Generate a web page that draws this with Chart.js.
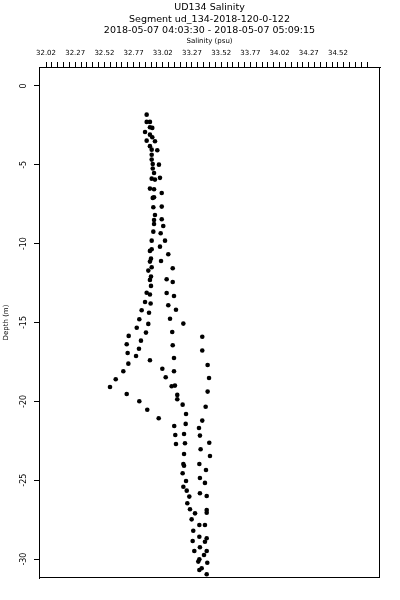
<!DOCTYPE html>
<html><head><meta charset="utf-8">
<script src="https://cdn.jsdelivr.net/npm/chart.js@4/dist/chart.umd.min.js"></script>
<style>html,body{margin:0;padding:0;background:#fff}</style>
</head><body>
<canvas id="c" width="400" height="600" style="display:block;width:400px;height:600px"></canvas>
<script>
const titleLines = ['UD134 Salinity', 'Segment ud_134-2018-120-0-122', '2018-05-07 04:03:30 - 2018-05-07 05:09:15'];
const xAxisTitle = 'Salinity (psu)';
const yAxisTitle = 'Depth (m)';
const xTickLabels = ['32.02','32.27','32.52','32.77','33.02','33.27','33.52','33.77','34.02','34.27','34.52'];
const xMinorCount = 56;      // minor tick marks every 0.05 psu from 32.02
const xMinorStep = 0.05;
const yTickValues = [0, -5, -10, -15, -20, -25, -30];

const salinity = [
32.882,32.882,32.910,32.910,32.930,32.868,32.910,32.930,32.882,32.953,
32.910,32.925,32.973,32.925,32.925,32.934,32.987,32.934,32.945,32.925,
32.953,32.996,32.910,32.945,33.011,32.934,32.945,32.939,33.011,32.953,
32.945,33.011,32.945,33.024,32.939,33.002,32.925,33.039,32.996,32.925,
32.910,33.067,32.919,33.005,32.910,32.925,33.105,32.896,32.919,33.053,
32.910,33.105,32.919,32.882,32.910,33.053,33.116,32.868,32.916,33.067,
33.133,32.839,32.902,33.082,33.196,32.819,32.896,32.797,32.876,33.101,
32.728,33.358,32.833,32.711,33.105,32.816,33.358,32.719,32.791,33.116,
32.910,32.725,33.404,33.016,33.116,32.682,33.045,33.416,32.617,33.096,
33.124,32.568,33.404,32.711,33.144,33.144,32.819,33.190,33.387,32.887,
33.219,32.985,33.358,33.216,33.118,33.330,33.127,33.202,33.338,33.418,
33.133,33.210,33.344,33.202,33.424,33.196,33.333,33.202,33.390,33.190,
33.338,33.219,33.381,33.196,33.225,33.338,33.396,33.247,33.230,33.396,
33.253,33.396,33.296,33.267,33.333,33.381,33.281,33.333,33.396,33.276,
33.381,33.338,33.290,33.396,33.373,33.333,33.324,33.401,33.353,33.333,
33.396,33.338
];
const depth = [
-1.82,-2.28,-2.28,-2.62,-2.66,-2.92,-3.09,-3.25,-3.47,-3.51,
-3.82,-4.04,-4.08,-4.36,-4.67,-4.95,-4.99,-5.24,-5.52,-5.88,
-5.94,-5.83,-6.51,-6.55,-6.79,-7.10,-7.06,-7.69,-7.65,-8.18,
-8.50,-8.45,-8.75,-8.88,-9.24,-9.34,-9.81,-9.81,-10.19,-10.36,
-10.46,-10.67,-10.95,-11.10,-11.14,-11.50,-11.56,-11.71,-12.09,-12.26,
-12.30,-12.43,-12.68,-13.11,-13.22,-13.13,-13.32,-13.70,-13.80,-13.91,
-14.19,-14.22,-14.38,-14.76,-15.07,-14.79,-15.09,-15.33,-15.64,-15.60,
-15.85,-15.90,-16.15,-16.38,-16.44,-16.66,-16.78,-16.93,-17.12,-17.25,
-17.39,-17.61,-17.69,-17.93,-18.09,-18.09,-18.47,-18.52,-18.60,-19.04,
-19.00,-19.09,-19.38,-19.53,-19.59,-19.87,-19.99,-20.21,-20.34,-20.53,
-20.80,-21.07,-21.22,-21.43,-21.56,-21.69,-22.13,-22.07,-22.17,-22.62,
-22.70,-22.66,-23.04,-23.34,-23.46,-23.97,-23.97,-24.08,-24.35,-24.56,
-24.86,-25.05,-25.17,-25.41,-25.66,-25.83,-26.00,-26.04,-26.46,-26.89,
-26.84,-27.06,-27.10,-27.48,-27.84,-27.84,-28.20,-28.58,-28.68,-28.85,
-28.90,-29.25,-29.49,-29.49,-29.74,-30.01,-30.16,-30.23,-30.58,-30.69,
-30.96,-31.28
];

const points = salinity.map((s, i) => ({x: s, y: depth[i]}));
const x0 = parseFloat(xTickLabels[0]);
const minorTicks = [];
for (let i = 0; i < xMinorCount; i++) minorTicks.push(+(x0 + i * xMinorStep).toFixed(4));

const FONT = '"DejaVu Sans", "Liberation Sans", sans-serif';

const decor = {
  id: 'decor',
  afterDraw(chart) {
    const ctx = chart.ctx, a = chart.chartArea, ys = chart.scales.y;
    ctx.save();
    ctx.strokeStyle = '#000';
    ctx.lineWidth = 1;
    ctx.strokeRect(Math.round(a.left) + 0.5, Math.round(a.top) + 0.5,
                   Math.round(a.right - a.left) - 1, Math.round(a.bottom - a.top) - 1);
    ctx.fillStyle = '#000';
    const cx = (a.left + a.right) / 2;
    ctx.textAlign = 'center';
    ctx.textBaseline = 'middle';
    ctx.font = '9.5px ' + FONT;
    const ty = [8, 19.5, 31];
    titleLines.forEach((t, i) => ctx.fillText(t, cx, ty[i]));
    ctx.font = '7px ' + FONT;
    ctx.fillText(xAxisTitle, cx, 41);
    ctx.font = '8px ' + FONT;
    yTickValues.forEach(v => {
      const py = ys.getPixelForValue(v);
      ctx.save();
      ctx.translate(24, py);
      ctx.rotate(-Math.PI / 2);
      ctx.fillText(String(v), 0, 0);
      ctx.restore();
    });
    ctx.font = '7px ' + FONT;
    ctx.save();
    ctx.translate(6, (a.top + a.bottom) / 2);
    ctx.rotate(-Math.PI / 2);
    ctx.fillText(yAxisTitle, 0, 0);
    ctx.restore();
    ctx.restore();
  }
};

new Chart(document.getElementById('c'), {
  type: 'scatter',
  data: {
    datasets: [{
      data: points,
      pointStyle: 'circle',
      pointRadius: 2.3,
      pointHoverRadius: 2.3,
      backgroundColor: '#000',
      borderWidth: 0,
      clip: 0
    }]
  },
  options: {
    responsive: false,
    devicePixelRatio: 1,
    animation: false,
    events: [],
    layout: { padding: { top: 0, left: 0, right: 20, bottom: 22 } },
    plugins: { legend: { display: false }, title: { display: false }, tooltip: { enabled: false } },
    scales: {
      x: {
        type: 'linear',
        position: 'top',
        min: 31.96,
        max: 34.88,
        afterBuildTicks(scale) { scale.ticks = minorTicks.map(v => ({ value: v })); },
        afterFit(scale) { scale.height = 67; },
        ticks: {
          autoSkip: false, minRotation: 0, maxRotation: 0, padding: 5,
          color: '#000',
          font: { family: FONT, size: 7 },
          callback: (v, i) => (i % 5 === 0 && xTickLabels[i / 5]) ? xTickLabels[i / 5] : ''
        },
        grid: { drawOnChartArea: false, drawTicks: true, tickLength: 5, color: '#000', lineWidth: 1 },
        border: { display: true, color: '#000', width: 1 }
      },
      y: {
        type: 'linear',
        position: 'left',
        min: -31.2,
        max: 1.2,
        afterBuildTicks(scale) { scale.ticks = yTickValues.map(v => ({ value: v })); },
        afterFit(scale) { scale.width = 39; },
        ticks: { display: false },
        grid: { drawOnChartArea: false, drawTicks: true, tickLength: 5, color: '#000', lineWidth: 1 },
        border: { display: true, color: '#000', width: 1 }
      }
    }
  },
  plugins: [decor]
});
</script>
</body></html>
